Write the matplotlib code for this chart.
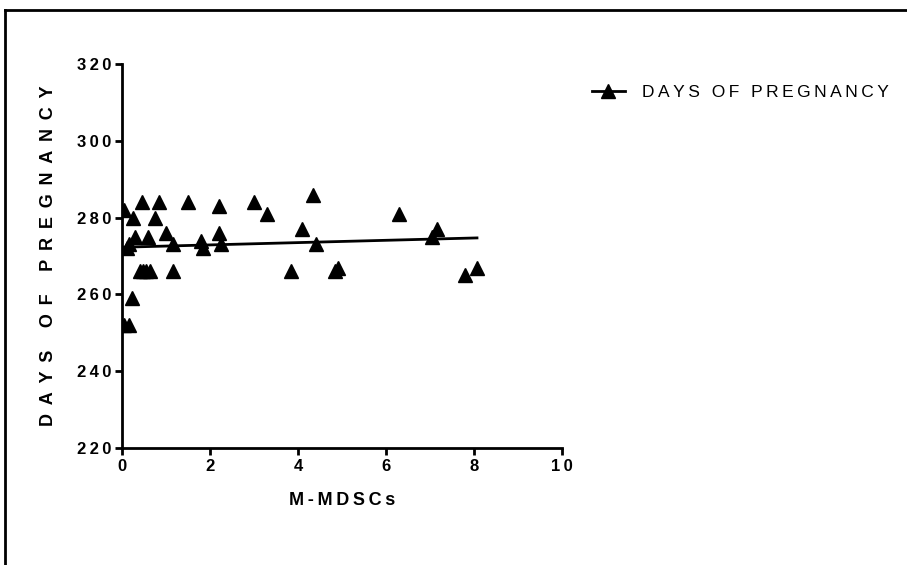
import matplotlib.pyplot as plt
import numpy as np
from matplotlib.lines import Line2D

plt.rcParams['font.family'] = ['Liberation Sans', 'DejaVu Sans']

# M-MDSCs vs days of pregnancy
mdsc = [0.05, 0.25, 0.45, 0.85, 0.75, 1.5, 2.2, 3.0, 0.3, 0.15, 0.12, 0.6,
        1.0, 1.15, 1.8, 1.85, 2.2, 2.25, 0.4, 0.48, 0.55, 0.63, 1.15, 0.22,
        0.05, 0.15, 3.85, 4.85, 4.9, 3.3, 4.35, 4.1, 4.4, 6.3, 7.05, 7.15,
        7.8, 8.07]
days = [282, 280, 284, 284, 280, 284, 283, 284, 275, 273, 272, 275,
        276, 273, 274, 272, 276, 273, 266, 266, 266, 266, 266, 259,
        252, 252, 266, 266, 267, 281, 286, 277, 273, 281, 275, 277,
        265, 267]
xticks = [0, 2, 4, 6, 8, 10]
yticks = [220, 240, 260, 280, 300, 320]
series_name = 'DAYS OF PREGNANCY'
xlab = 'M-MDSCs'
ylab = 'DAYS OF PREGNANCY'


def spaced(s, sep='\u2009'):
    # fake letter spacing
    return sep.join(s)


fig = plt.figure(figsize=(9.07, 5.65), dpi=100)
ax = fig.add_axes([0.1345, 0.2071, 0.485, 0.6796])

x = np.array(mdsc)
y = np.array(days)
ax.plot(x, y, linestyle='none', marker='^', ms=10.5, color='black')

# linear fit
k, b = np.polyfit(x, y, 1)
xx = np.array([x.min(), x.max()])
ax.plot(xx, k * xx + b, color='black', lw=2)

ax.set_xlim(0, 10)
ax.set_ylim(220, 320)
ax.set_xticks(xticks)
ax.set_yticks(yticks)
ax.set_xticklabels([spaced(str(t)) for t in xticks], fontweight='bold', fontsize=12)
ax.set_yticklabels([spaced(str(t)) for t in yticks], fontweight='bold', fontsize=12)
for s in ['top', 'right']:
    ax.spines[s].set_visible(False)
for s in ['left', 'bottom']:
    ax.spines[s].set_linewidth(2)
ax.tick_params(direction='out', length=5, width=2, pad=3)

ax.set_xlabel(spaced(xlab), fontweight='bold', fontsize=13, labelpad=13)
ax.set_ylabel(spaced(ylab, '\u2009\u2009\u200a'), fontweight='bold', fontsize=13, labelpad=14)

h = Line2D([], [], color='black', lw=2, marker='^', ms=10.5)
fig.legend([h], [spaced(series_name, '\u2009')], loc='upper left',
           bbox_to_anchor=(0.635, 0.877), frameon=False, fontsize=12.5,
           handlelength=1.9, handletextpad=1.0)

# outer frame (left and top edges only visible)
fig.add_artist(Line2D([0.006, 0.006], [0, 0.982], color='black', lw=2))
fig.add_artist(Line2D([0.006, 1.0], [0.982, 0.982], color='black', lw=2))

fig.savefig('out.png', dpi=100)
